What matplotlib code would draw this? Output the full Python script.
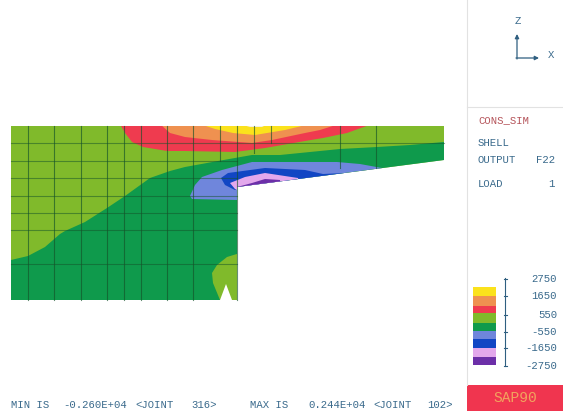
import matplotlib
matplotlib.use("Agg")
import matplotlib.pyplot as plt
from matplotlib.patches import Polygon, Rectangle

# model outline and contour regions (x, y in picture units)
outline = [(11,126),(444,126),(444,160),(237,187),(237,300),(11,300)]
dark_green = [(11,260),(28,256),(45,247),(60,234),(65,231),(85,222),(107,208),(125,196),(150,178),(170,171),
              (185,167),(218,161),(252,155),(280,155),(340,149),(377,147),(410,145),(444,142),
              (450,170),(237,190),(237,305),(11,305)]
lower_patch = [(240,253),(227,257),(217,265),(212,273),(213,283),(220,300),(240,300)]
white_notch = [(220,300),(226,284),(232,300)]
red = [(120,124),(125,133),(132,142),(143,147),(167,151),(185,151),(235,152),(265,148),(305,141),
       (323,138),(347,133),(372,124)]
orange = [(160,124),(170,133),(185,137),(212,140),(252,143),(272,140),(305,133),(320,130),(339,124)]
yellow = [(200,124),(215,129),(233,133),(255,135),(285,130),(310,124)]
pale = [(243,125),(250,127),(262,127),(266,125)]
light_blue = [(190,196),(195,185),(202,177),(222,170),(252,162),(305,162),(337,162),(360,164),
              (382,168),(382,175),(237,190),(237,200),(192,199)]
blue = [(221,178),(228,173),(265,168),(305,170),(323,174),(345,173),(345,180),(237,190),
        (235,190),(225,185)]
pink = [(230,183),(245,177),(265,173),(298,178),(300,185),(237,190),(235,189)]
purple = [(237,187),(252,183),(265,179),(280,180),(280,190),(237,190)]

grid_x = [28,54,81,107,124,141,167,193,220,237,254,271,340,376]
grid_x_end = [300,300,300,300,300,300,300,300,161,300,153,143,168,168]
grid_y = [143,161,178,196,213,230,264]
grid_y_end = [444,237,237,237,237,237,237]

# legend
legend_levels = [2750,1650,550,-550,-1650,-2750]
legend_tick_y = [279,296,315,332,348,366]
band_edges = [287,296,306,313,323,331,339,348,357,365]

c_light_green = "#80ba2b"; c_dark_green = "#0f9a4c"; c_red = "#ef3b4f"; c_orange = "#ef9150"
c_yellow = "#fbe21c"; c_light_blue = "#6f86dc"; c_blue = "#1146c4"; c_pink = "#e3a8ec"; c_purple = "#6c2fa8"
band_colors = [c_yellow, c_orange, c_red, c_light_green, c_dark_green, c_light_blue, c_blue, c_pink, c_purple]

plt.rcParams['font.family'] = ['Liberation Mono', 'DejaVu Sans']
fig = plt.figure(figsize=(5.63, 4.11), dpi=100)
ax = fig.add_axes([0, 0, 1, 1])
ax.set_xlim(0, 563); ax.set_ylim(411, 0); ax.axis("off")

shape = Polygon(outline, closed=True, fc=c_light_green, ec="none", zorder=1)
ax.add_patch(shape)
regions = [(dark_green,c_dark_green),(lower_patch,c_light_green),(white_notch,"white"),
           (red,c_red),(orange,c_orange),(yellow,c_yellow),(pale,"#f4f0e0"),
           (light_blue,c_light_blue),(blue,c_blue),(pink,c_pink),(purple,c_purple)]
for i,(pts,col) in enumerate(regions):
    p = Polygon(pts, closed=True, fc=col, ec="none", zorder=2+i*0.01)
    ax.add_patch(p)
    p.set_clip_path(shape)

for x,e in zip(grid_x,grid_x_end):
    ax.plot([x,x],[126,e], color="#14522a", lw=0.8, alpha=0.65, zorder=3)
for y,e in zip(grid_y,grid_y_end):
    ax.plot([11,e],[y,y], color="#14522a", lw=0.8, alpha=0.5, zorder=3)

# side panel
ax.plot([467,467],[0,385], color="#e2e2e2", lw=0.8)
ax.plot([467,563],[107,107], color="#e2e2e2", lw=0.8)
ax.add_patch(Rectangle((467,385),96,26, fc="#f0354f", ec="none"))
ax.text(515,398,"SAP90",color="#f2a35e",fontsize=10.5,ha="center",va="center")

tc = "#3a6a8c"; rc = "#b5545a"; fs = 7.7
ax.annotate("", xy=(517,34), xytext=(517,59), arrowprops=dict(arrowstyle="-|>",color="#2f5f80",lw=0.9,mutation_scale=6,shrinkA=0,shrinkB=0))
ax.annotate("", xy=(539,58), xytext=(516,58), arrowprops=dict(arrowstyle="-|>",color="#2f5f80",lw=0.9,mutation_scale=6,shrinkA=0,shrinkB=0))
ax.text(518,21,"Z",color=tc,fontsize=fs,ha="center",va="center")
ax.text(551,55,"X",color=tc,fontsize=fs,ha="center",va="center")
ax.text(478,120,"CONS_SIM",color=rc,fontsize=fs,va="center")
ax.text(478,143,"SHELL",color=tc,fontsize=fs,va="center")
ax.text(478,160,"OUTPUT",color=tc,fontsize=fs,va="center")
ax.text(555,160,"F22",color=tc,fontsize=fs,va="center",ha="right")
ax.text(478,184,"LOAD",color=tc,fontsize=fs,va="center")
ax.text(555,184,"1",color=tc,fontsize=fs,va="center",ha="right")

for top,bot,col in zip(band_edges[:-1],band_edges[1:],band_colors):
    ax.add_patch(Rectangle((473,top),23,bot-top,fc=col,ec="none"))
ax.plot([505,505],[278,366],color="#2f5f80",lw=0.8)
for y,v in zip(legend_tick_y,legend_levels):
    ax.plot([503.5,506.5],[y,y],color="#2f5f80",lw=0.8)
    ax.text(557,y,str(v),color=tc,fontsize=fs,ha="right",va="center")

# footer
for x,s in zip([11,63,135,191,250,308,373,427],
               ["MIN IS","-0.260E+04","<JOINT","316>","MAX IS","0.244E+04","<JOINT","102>"]):
    ax.text(x,405,s,color=tc,fontsize=fs,va="center")

fig.savefig("out.png", dpi=100)
